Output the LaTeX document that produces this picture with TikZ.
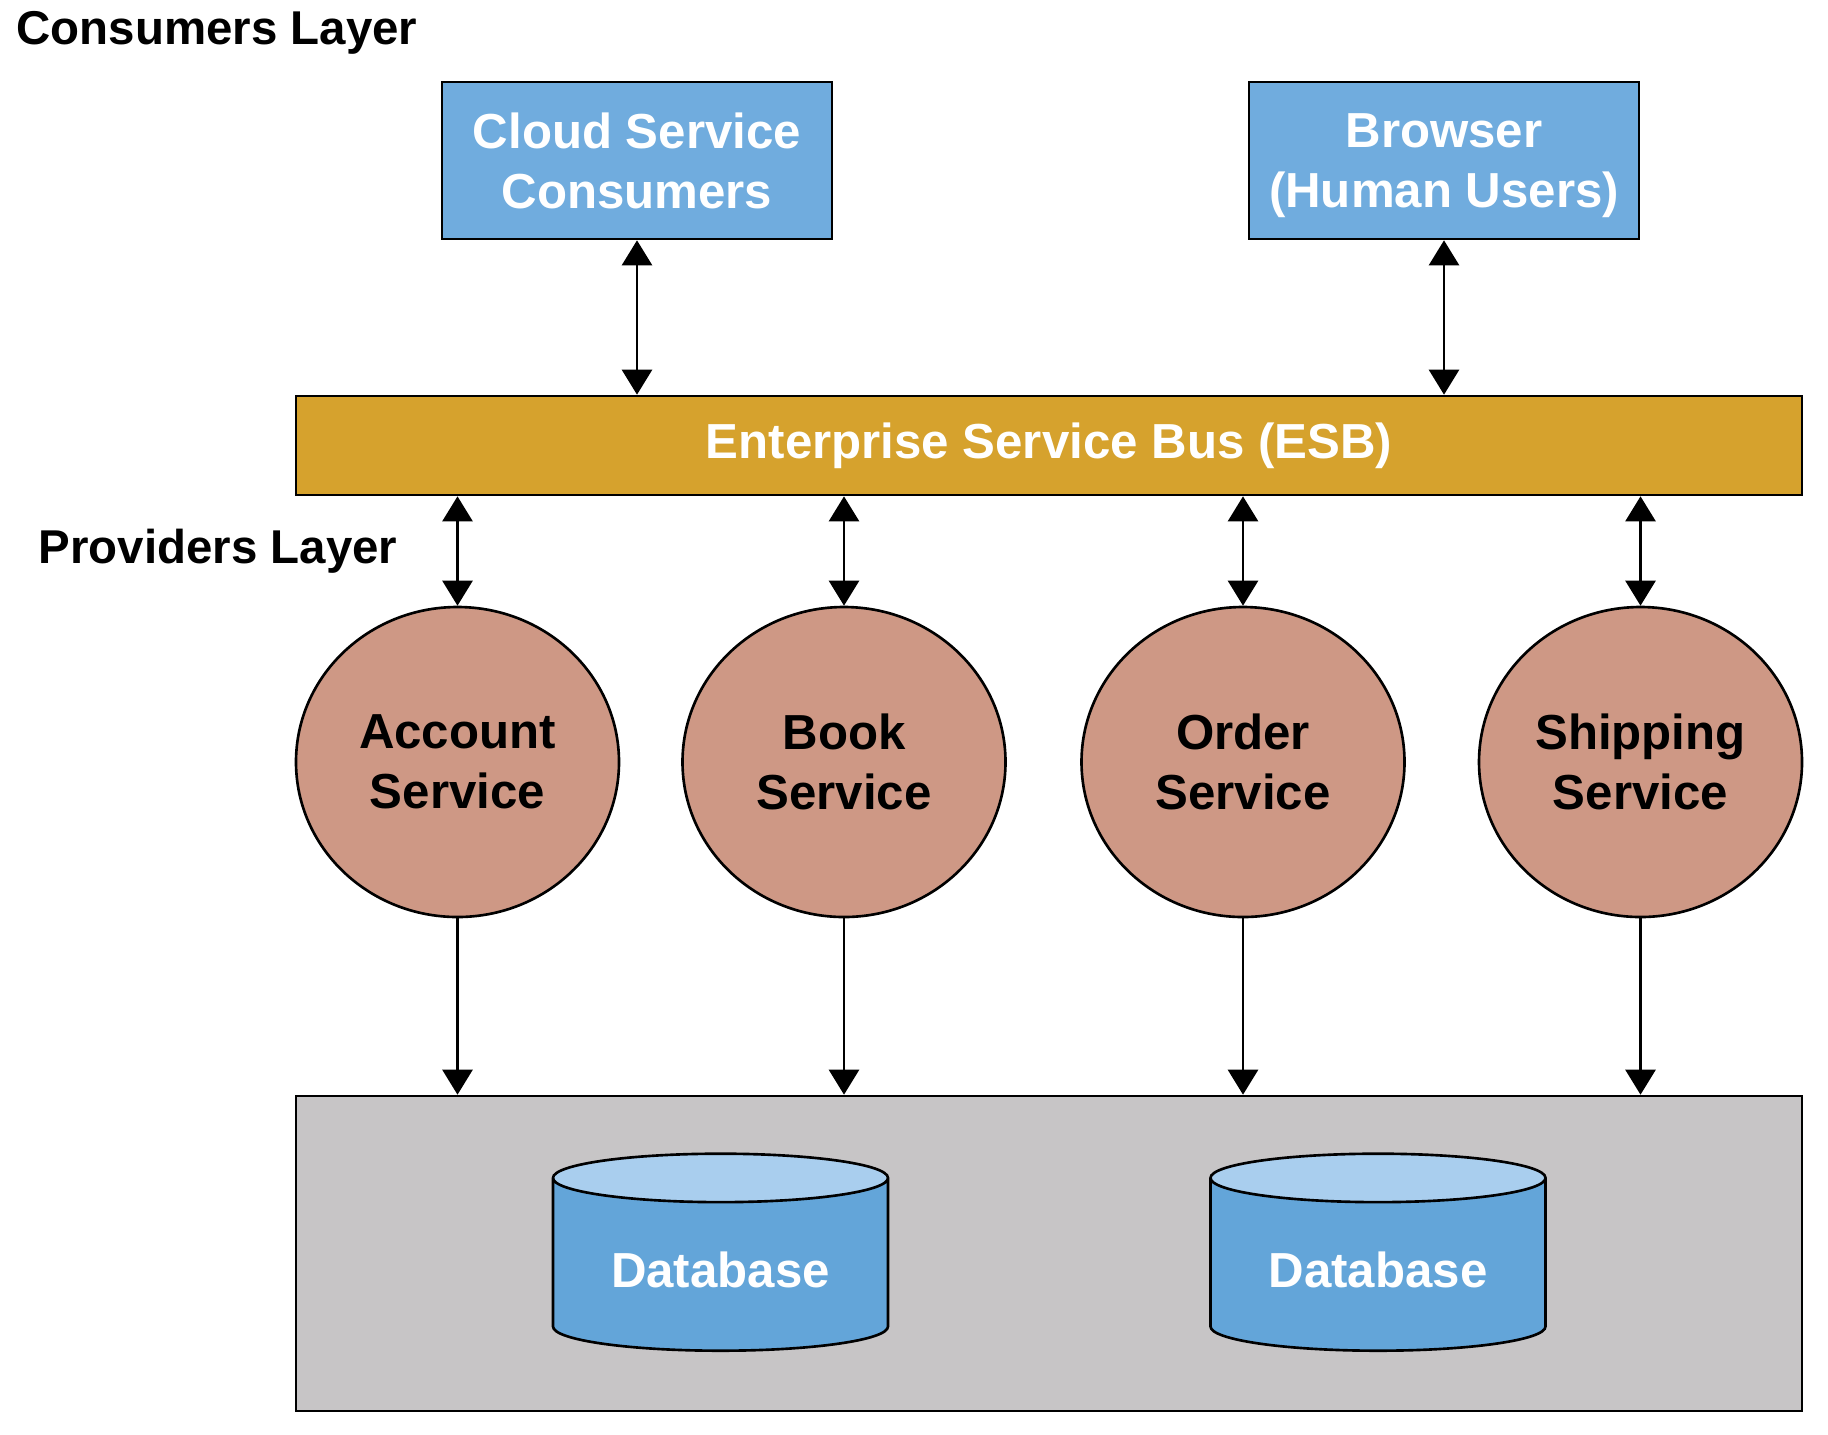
\documentclass[tikz,border=0pt]{standalone}
\usepackage{fontspec}
\setmainfont{Liberation Sans}
\usepackage{tikz}
\usepackage{xcolor}
\usetikzlibrary{shapes.geometric, arrows.meta, positioning, calc}
\definecolor{cConsumer}{RGB}{112,172,222}
\definecolor{cBus}{RGB}{214,162,45}
\definecolor{cService}{RGB}{206,152,133}
\definecolor{cStore}{RGB}{199,197,198}
\definecolor{cDbBody}{RGB}{99,165,217}
\definecolor{cDbTop}{RGB}{169,206,238}
\tikzset{
	layerlbl/.style ={anchor=west, inner sep=0pt, font=\fontsize{13.5pt}{16pt}\selectfont\bfseries},
	consumer/.style ={rectangle, draw=black, line width=0.75pt, fill=cConsumer, minimum width=3.9cm, minimum height=1.57cm, align=center, text depth=0pt, text=white, font=\fontsize{14pt}{17pt}\selectfont\bfseries},
	bus/.style      ={rectangle, draw=black, line width=0.75pt, fill=cBus, minimum width=15.06cm, minimum height=0.99cm, text=white, font=\fontsize{14pt}{17pt}\selectfont\bfseries},
	service/.style  ={ellipse, draw=black, line width=0.75pt, fill=cService, minimum width=3.23cm, minimum height=3.1cm, inner sep=0pt, align=center, font=\fontsize{14pt}{17pt}\selectfont\bfseries},
	store/.style    ={rectangle, draw=black, line width=0.75pt, fill=cStore, minimum width=15.06cm, minimum height=3.15cm},
	db/.style       ={cylinder, shape border rotate=90, draw=black, line width=0.75pt, cylinder uses custom fill, cylinder body fill=cDbBody, cylinder end fill=cDbTop, minimum width=3.35cm, minimum height=1.97cm, shape aspect=0.2, text=white, font=\fontsize{14pt}{17pt}\selectfont\bfseries},
	biarrow/.style  ={{Triangle[length=2.5mm, width=3mm]}-{Triangle[length=2.5mm, width=3mm]}, line width=0.75pt},
	onearrow/.style ={-{Triangle[length=2.5mm, width=3mm]}, line width=0.75pt},
}

\begin{document}
\begin{tikzpicture}
	\useasboundingbox (0,0) rectangle (18.28,-14.34);
	% layers
	\node[layerlbl] (conslbl) at (0.16,-0.33) {Consumers Layer};
	\node[layerlbl] (provlbl) at (0.38,-5.515) {Providers Layer};
	\node[consumer] (cloud) at (6.37,-1.605) {Cloud Service\\Consumers};
	\node[consumer] (browser) at (14.44,-1.605) {Browser\\(Human Users)};
	\node[bus] (esb) at (10.49,-4.455) {Enterprise Service Bus (ESB)};
	\node[service] (account) at (4.575,-7.62) {Account\\Service};
	\node[service] (book) at (8.44,-7.62) {Book\\Service};
	\node[service] (order) at (12.43,-7.62) {Order\\Service};
	\node[service] (shipping) at (16.405,-7.62) {Shipping\\Service};
	\node[store] (data) at (10.49,-12.535) {};
	\node[db, anchor=south] (db1) at (7.205,-13.52) {Database};
	\node[db, anchor=south] (db2) at (13.78,-13.52) {Database};
	% connectors
	\draw[biarrow] (cloud.south) -- (cloud.south |- esb.north);
	\draw[biarrow] (browser.south) -- (browser.south |- esb.north);
	\draw[biarrow] (account.north |- esb.south) -- (account.north);
	\draw[biarrow] (book.north |- esb.south) -- (book.north);
	\draw[biarrow] (order.north |- esb.south) -- (order.north);
	\draw[biarrow] (shipping.north |- esb.south) -- (shipping.north);
	\draw[onearrow] (account.south) -- (account.south |- data.north);
	\draw[onearrow] (book.south) -- (book.south |- data.north);
	\draw[onearrow] (order.south) -- (order.south |- data.north);
	\draw[onearrow] (shipping.south) -- (shipping.south |- data.north);
\end{tikzpicture}
\end{document}
